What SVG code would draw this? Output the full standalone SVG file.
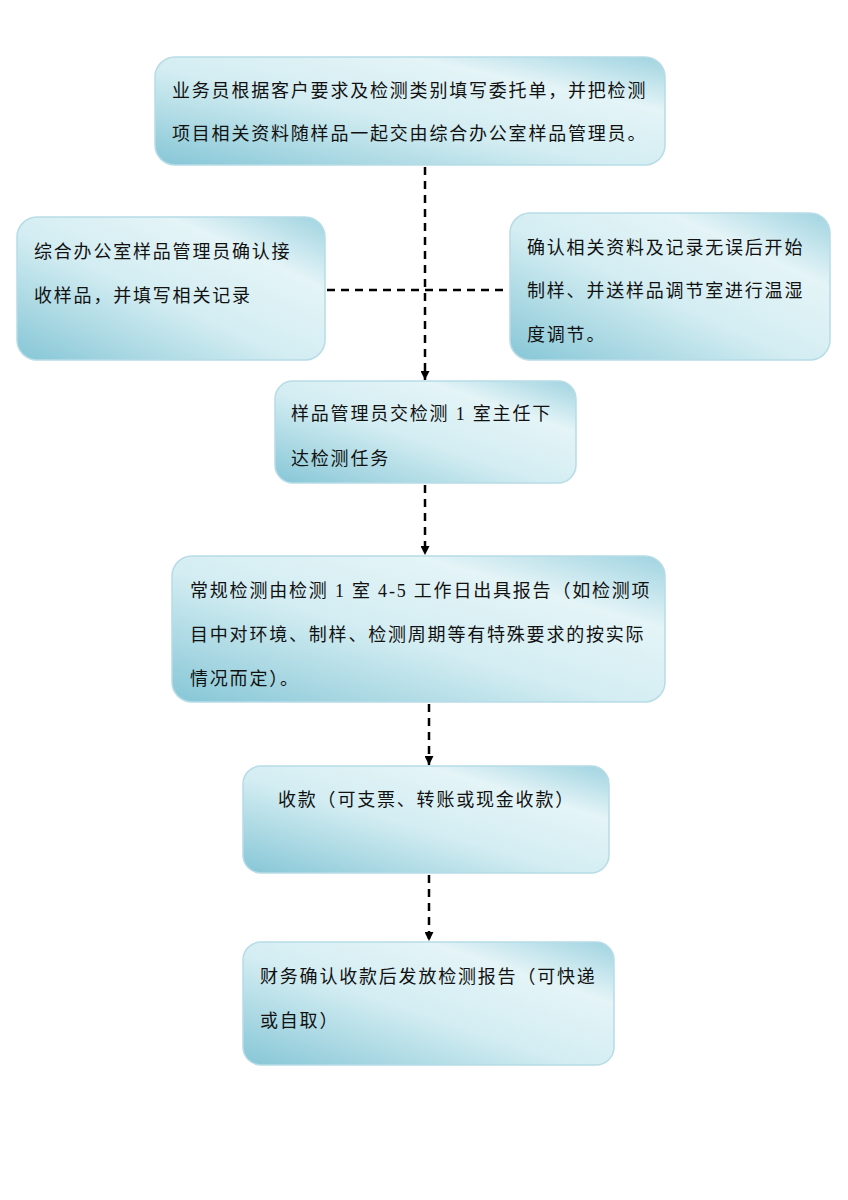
<svg xmlns="http://www.w3.org/2000/svg" width="848" height="1200" viewBox="0 0 848 1200">
<style>
.box{fill:url(#g);stroke:#b7dce6;stroke-width:1.5}
text{font-family:"Liberation Serif","Noto Sans CJK SC",serif;font-size:18px;fill:#111;letter-spacing:1.8px}
.c{stroke:#000;stroke-width:2.5;stroke-dasharray:8,6;fill:none}
</style>
<defs>
<linearGradient id="g" x1="0" y1="1" x2="1" y2="0">
<stop offset="0" stop-color="#86c6d6"/><stop offset="0.45" stop-color="#d3edf2"/><stop offset="0.75" stop-color="#e4f4f7"/><stop offset="1" stop-color="#9fd3e0"/>
</linearGradient>
<marker id="a" markerWidth="9" markerHeight="9" refX="9" refY="4.5" orient="auto" markerUnits="userSpaceOnUse"><path d="M0,0 L9,4.5 L0,9z" fill="#000"/></marker>
</defs>
<rect width="848" height="1200" fill="#fff"/>
<g id="connectors">
<path class="c" d="M425,167 V380" marker-end="url(#a)"/>
<path class="c" d="M327,290 H508"/>
<path class="c" d="M425,485 V555" marker-end="url(#a)"/>
<path class="c" d="M429,704 V765" marker-end="url(#a)"/>
<path class="c" d="M429,875 V941" marker-end="url(#a)"/>
</g>
<g id="n1"><rect class="box" x="155" y="57" width="510" height="108" rx="20"/>
<text x="172" y="97">业务员根据客户要求及检测类别填写委托单，并把检测</text>
<text x="172" y="140">项目相关资料随样品一起交由综合办公室样品管理员。</text></g>
<g id="n2"><rect class="box" x="17" y="217" width="308" height="143" rx="20"/>
<text x="34" y="258">综合办公室样品管理员确认接</text>
<text x="34" y="302">收样品，并填写相关记录</text></g>
<g id="n3"><rect class="box" x="510" y="213" width="320" height="147" rx="20"/>
<text x="527" y="254">确认相关资料及记录无误后开始</text>
<text x="527" y="297">制样、并送样品调节室进行温湿</text>
<text x="527" y="341">度调节。</text></g>
<g id="n4"><rect class="box" x="275" y="381" width="301" height="102" rx="18"/>
<text x="291" y="420">样品管理员交检测 1 室主任下</text>
<text x="291" y="465">达检测任务</text></g>
<g id="n5"><rect class="box" x="172" y="556" width="493" height="146" rx="20"/>
<text x="190" y="597">常规检测由检测 1 室 4-5 工作日出具报告（如检测项</text>
<text x="190" y="641">目中对环境、制样、检测周期等有特殊要求的按实际</text>
<text x="190" y="685">情况而定）。</text></g>
<g id="n6"><rect class="box" x="243" y="766" width="366" height="107" rx="18"/>
<text x="278" y="806">收款（可支票、转账或现金收款）</text></g>
<g id="n7"><rect class="box" x="243" y="942" width="371" height="123" rx="18"/>
<text x="260" y="983">财务确认收款后发放检测报告（可快递</text>
<text x="260" y="1027">或自取）</text></g>
</svg>
